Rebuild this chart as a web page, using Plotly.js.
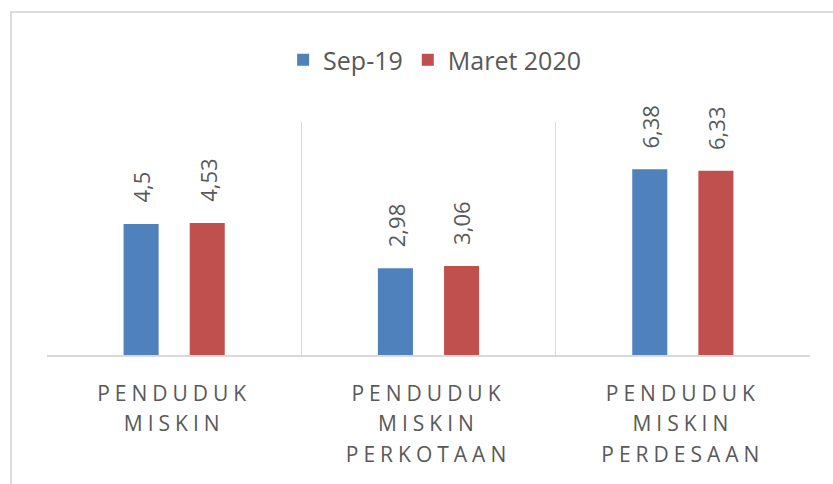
<!DOCTYPE html>
<html>
<head>
<meta charset="utf-8">
<script src="https://cdn.plot.ly/plotly-3.0.1.min.js"></script>
<style>
  html, body { margin: 0; padding: 0; background: #ffffff; overflow: hidden; }
  #chart { position: absolute; left: 0; top: 0; width: 833px; height: 484px; }
  #frame { position: absolute; left: 10px; top: 11px; width: 1000px; height: 1000px;
           border: 2px solid #dcdcdc; pointer-events: none; }
  .xtick text { letter-spacing: 5px; }
</style>
</head>
<body>
<div id="chart"></div>
<div id="frame"></div>
<script>
// Data
const categories = ["PENDUDUK<br>MISKIN", "PENDUDUK<br>MISKIN<br>PERKOTAAN", "PENDUDUK<br>MISKIN<br>PERDESAAN"];
const seriesNames = ["Sep-19", "Maret 2020"];
const sep19 = [4.5, 2.98, 6.38];
const maret2020 = [4.53, 3.06, 6.33];
const sep19Labels = ["4,5", "2,98", "6,38"];
const maret2020Labels = ["4,53", "3,06", "6,33"];

const colors = ["#4F81BD", "#C0504D"];
const textColor = "#595959";
const fontFam = "'Open Sans', 'Noto Sans', sans-serif";

const traces = [
  { type: "bar", name: seriesNames[0], x: categories, y: sep19, marker: { color: colors[0] }, hoverinfo: "none" },
  { type: "bar", name: seriesNames[1], x: categories, y: maret2020, marker: { color: colors[1] }, hoverinfo: "none" }
];

const annotations = [];
function addLabels(vals, labels, shift) {
  vals.forEach((v, i) => {
    annotations.push({
      xref: "x", yref: "y", x: categories[i], y: v,
      text: labels[i], showarrow: false, textangle: -90,
      xanchor: "center", yanchor: "bottom",
      xshift: shift, yshift: 19,
      font: { family: fontFam, size: 22, color: textColor }
    });
  });
}
addLabels(sep19, sep19Labels, -33);
addLabels(maret2020, maret2020Labels, 33);

const layout = {
  width: 833, height: 484,
  margin: { l: 47, r: 23, t: 122, b: 129 },
  paper_bgcolor: "rgba(0,0,0,0)",
  plot_bgcolor: "rgba(0,0,0,0)",
  barmode: "group",
  bargap: 0.48,
  bargroupgap: 0.47,
  showlegend: true,
  legend: {
    orientation: "h", x: 0.508, xanchor: "center", y: 1.266, yanchor: "middle",
    font: { family: fontFam, size: 25, color: textColor },
    itemclick: false, itemdoubleclick: false
  },
  xaxis: {
    type: "category",
    tickson: "boundaries",
    showgrid: true, gridcolor: "#d9d9d9", gridwidth: 1.5,
    showline: true, linecolor: "#d9d9d9", linewidth: 1.5,
    ticks: "", ticklabelstandoff: 19,
    tickfont: { family: fontFam, size: 21, color: textColor },
    range: [-0.5, 2.5], fixedrange: true
  },
  yaxis: {
    range: [0, 8], showgrid: false, zeroline: false, showline: false,
    showticklabels: false, ticks: "", fixedrange: true
  },
  annotations: annotations
};

Plotly.newPlot("chart", traces, layout, { displayModeBar: false, staticPlot: true }).then(() => {
  document.querySelectorAll(".xtick text tspan.line").forEach(t => {
    const dy = t.getAttribute("dy");
    if (dy && dy.endsWith("em")) {
      const v = parseFloat(dy);
      t.setAttribute("dy", (v * 1.45 / 1.3) + "em");
    }
  });
});
</script>
</body>
</html>
